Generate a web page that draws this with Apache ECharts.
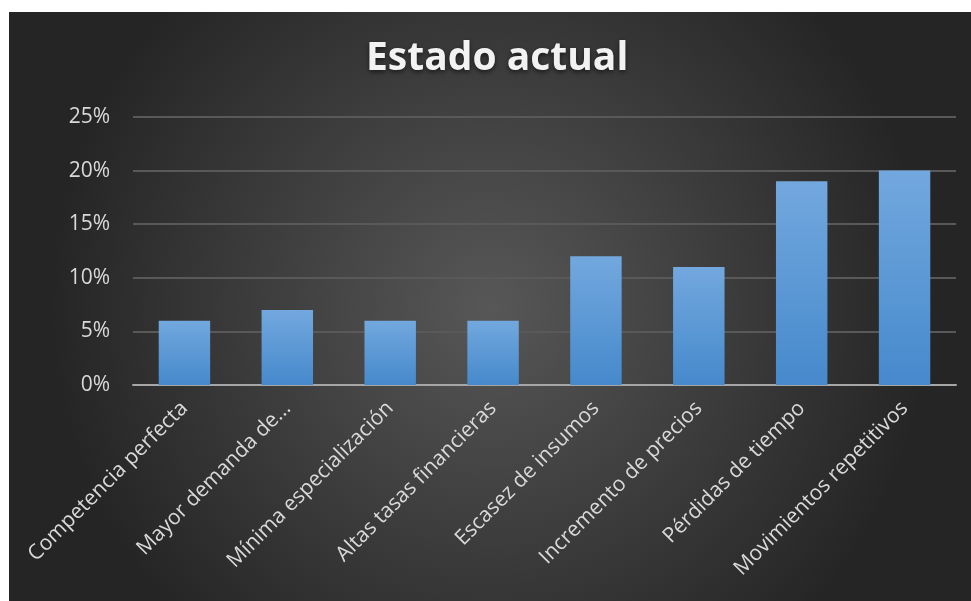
<!DOCTYPE html>
<html>
<head>
<meta charset="utf-8">
<script src="https://cdn.jsdelivr.net/npm/echarts@6/dist/echarts.min.js"></script>
<style>
	html, body {
		margin: 0;
		padding: 0;
		background: #ffffff;
	}
	#chart {
		position: absolute;
		left: 9px;
		top: 12px;
		width: 962px;
		height: 589px;
	}
</style>
</head>
<body>
<div id="chart"></div>
<script>
// datos del gráfico
const categories = [
	'Competencia perfecta',
	'Mayor demanda de...',
	'Mínima especialización',
	'Altas tasas financieras',
	'Escasez de insumos',
	'Incremento de precios',
	'Pérdidas de tiempo',
	'Movimientos repetitivos'
];
const values = [6, 7, 6, 6, 12, 11, 19, 20]; // porcentaje
const yTicks = [0, 5, 10, 15, 20, 25];

const myChart = echarts.init(document.getElementById('chart'));

const options = {
	backgroundColor: {
		type: 'radial',
		x: 0.5,
		y: 0.5,
		r: 0.75,
		colorStops: [
			{ offset: 0, color: '#575757' },
			{ offset: 1, color: '#252525' }
		]
	},
	title: {
		text: 'Estado actual',
		left: 352,
		top: 22,
		textStyle: {
			color: '#f2f2f2',
			fontFamily: 'Open Sans',
			fontWeight: 'bold',
			fontSize: 39,
			textShadowColor: 'rgba(0,0,0,0.6)',
			textShadowBlur: 5,
			textShadowOffsetY: 2
		}
	},
	grid: {
		left: 124,
		right: 15,
		top: 105,
		bottom: 216
	},
	xAxis: {
		type: 'category',
		data: categories,
		axisTick: { show: false },
		axisLine: {
			lineStyle: { color: '#a6a6a6', width: 2 }
		},
		axisLabel: {
			rotate: 45,
			interval: 0,
			margin: 20,
			color: '#d9d9d9',
			fontFamily: 'Open Sans',
			fontSize: 21
		}
	},
	yAxis: {
		type: 'value',
		min: yTicks[0],
		max: yTicks[yTicks.length - 1],
		interval: 5,
		axisLine: { show: false },
		axisTick: { show: false },
		splitLine: {
			lineStyle: { color: '#595959', width: 2 }
		},
		axisLabel: {
			margin: 23,
			color: '#d9d9d9',
			fontFamily: 'Open Sans',
			fontSize: 21,
			formatter: '{value}%'
		}
	},
	series: [
		{
			type: 'bar',
			data: values,
			barWidth: '50%',
			itemStyle: {
				color: {
					type: 'linear',
					x: 0, y: 0, x2: 0, y2: 1,
					colorStops: [
						{ offset: 0, color: '#72a8de' },
						{ offset: 1, color: '#4689cc' }
					]
				},
				shadowColor: 'rgba(0,0,0,0.55)',
				shadowBlur: 8,
				shadowOffsetX: 1,
				shadowOffsetY: 2
			}
		}
	]
};

myChart.setOption(options);
</script>
</body>
</html>
